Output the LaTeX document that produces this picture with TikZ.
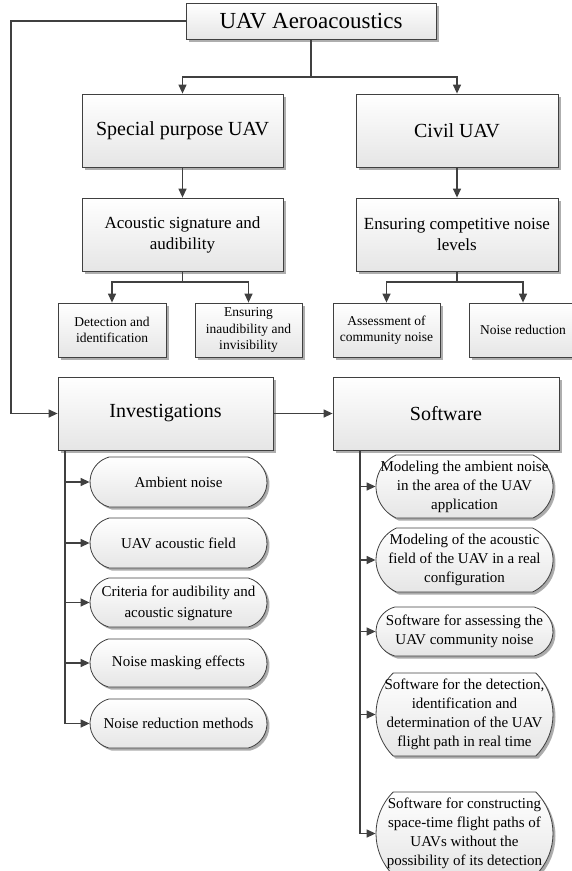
\documentclass[tikz,border=0pt]{standalone}
\usepackage{fontspec}
\setmainfont{Liberation Serif}
\usetikzlibrary{arrows.meta,shadows,shapes.misc}
\definecolor{lc}{HTML}{404040}
\newcommand{\ovtext}[1]{\makebox[0pt]{\begin{tabular}{@{}c@{}}#1\end{tabular}}}
\tikzset{
  box/.style={draw=lc, line width=0.8pt, top color=white, bottom color=black!10,
    drop shadow={shadow xshift=2.5pt, shadow yshift=-2.5pt, fill=black!45, opacity=0.7},
    inner sep=0pt, align=center, text=black},
  bigbox/.style={box, font=\fontsize{20}{24}\selectfont, minimum height=73pt},
  midbox/.style={box, font=\fontsize{17}{21}\selectfont, minimum height=73pt},
  smallbox/.style={box, font=\fontsize{13.5}{16.6}\selectfont, minimum width=107pt, minimum height=54pt},
  oval/.style={box, shape=rounded rectangle, minimum width=177pt,
    drop shadow={shadow xshift=1.5pt, shadow yshift=-1.5pt, fill=black!35, opacity=0.6},
    font=\fontsize{15}{19}\selectfont},
  ln/.style={draw=lc, line width=1.3pt},
  arr/.style={ln, -{Triangle[length=9pt,width=8pt]}},
}
\begin{document}
\begin{tikzpicture}[x=1pt,y=-1pt]
\useasboundingbox (0,0) rectangle (571,871);
% top level
\node[box, minimum width=250pt, minimum height=36pt, font=\fontsize{23}{27}\selectfont] (top) at (311,21) {UAV Aeroacoustics};
\node[bigbox, minimum width=201pt] (sp) at (182.5,130.5) {Special purpose UAV};
\node[bigbox, minimum width=202pt] (cv) at (457,130.5) {Civil UAV};
\node[midbox, minimum width=201pt] (as) at (182.5,234.5) {Acoustic signature and\\audibility};
\node[midbox, minimum width=202pt] (ec) at (457,234.5) {Ensuring competitive noise\\levels};
\node[smallbox, minimum width=108pt] (det) at (112,330) {Detection and\\identification};
\node[smallbox] (ina) at (248.5,330) {Ensuring\\inaudibility and\\invisibility};
\node[smallbox] (ass) at (386.5,330) {Assessment of\\community noise};
\node[smallbox, minimum width=108pt] (nr) at (523,330) {Noise reduction};
\node[bigbox, minimum width=215pt] (inv) at (165.5,413.5) {Investigations};
\node[bigbox, minimum width=226pt] (sw) at (446,413.5) {Software};
% left ovals
\node[oval, minimum height=50pt, rounded rectangle arc length=150] (o1) at (178.5,482) {Ambient noise};
\node[oval, minimum height=50pt, rounded rectangle arc length=150] (o2) at (178.5,543) {UAV acoustic field};
\node[oval, minimum height=49pt, rounded rectangle arc length=150, font=\fontsize{15}{21}\selectfont] (o3) at (178.5,602.5) {\ovtext{Criteria for audibility and\\acoustic signature}};
\node[oval, minimum height=48pt, rounded rectangle arc length=150] (o4) at (178.5,663) {Noise masking effects};
\node[oval, minimum height=49pt, rounded rectangle arc length=150] (o5) at (178.5,723.5) {Noise reduction methods};
% right ovals
\node[oval, minimum height=63pt, rounded rectangle arc length=130] (r1) at (464.5,486.5) {\ovtext{Modeling the ambient noise\\in the area of the UAV\\application}};
\node[oval, minimum height=64pt, rounded rectangle arc length=130] (r2) at (464.5,560) {\ovtext{Modeling of the acoustic\\field of the UAV in a real\\configuration}};
\node[oval, minimum height=49pt, rounded rectangle arc length=150] (r3) at (464.5,631.5) {\ovtext{Software for assessing the\\UAV community noise}};
\node[oval, minimum height=83pt, rounded rectangle arc length=90] (r4) at (464.5,714.5) {\ovtext{Software for the detection,\\identification and\\determination of the UAV\\flight path in real time}};
\node[oval, minimum height=83pt, rounded rectangle arc length=90] (r5) at (464.5,833.5) {\ovtext{Software for constructing\\space-time flight paths of\\UAVs without the\\possibility of its detection}};
% helper coordinates
\coordinate (b0) at (311,77);
\coordinate (b1) at (182.5,282);
\coordinate (b2) at (457,282);
\coordinate (lx) at (11,200);
\coordinate (ix) at (65,0);
\coordinate (sx) at (360,0);
% connectors
\draw[arr] (top.south) -- (b0) -| (sp.north);
\draw[arr] (b0) -| (cv.north);
\draw[arr] (sp.south) -- (as.north);
\draw[arr] (cv.south) -- (ec.north);
\draw[arr] (as.south) -- (b1) -| (det.north);
\draw[arr] (b1) -| (ina.north);
\draw[arr] (ec.south) -- (b2) -| (ass.north);
\draw[arr] (b2) -| (nr.north);
\draw[arr] (top.west) -| (lx) |- (inv.west);
\draw[arr] (inv.east) -- (inv.east -| sw.west);
\foreach \o in {o1,o2,o3,o4,o5} \draw[arr] (inv.south -| ix) |- (\o.west);
\foreach \o in {r1,r2,r3,r4,r5} \draw[arr] (sw.south -| sx) |- (\o.west);
\end{tikzpicture}
\end{document}
